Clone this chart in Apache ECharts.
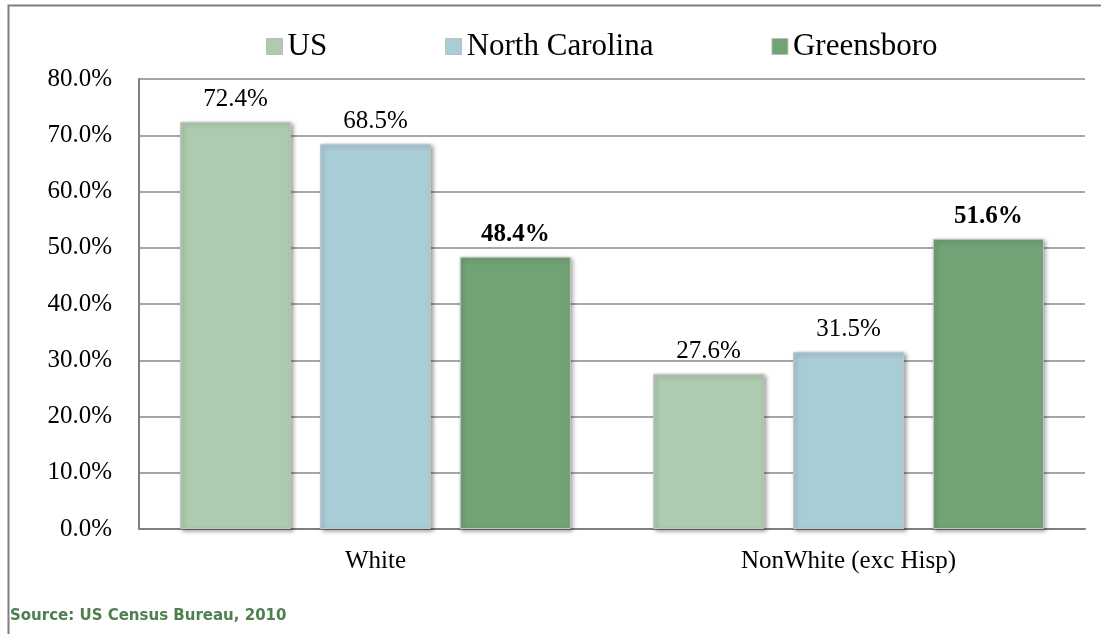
<!DOCTYPE html>
<html>
<head>
<meta charset="utf-8">
<script src="https://cdn.jsdelivr.net/npm/echarts@6/dist/echarts.min.js"></script>
<style>
  html, body { margin: 0; padding: 0; background: #fff; }
  #chart { width: 1101px; height: 634px; }
</style>
</head>
<body>
<div id="chart"></div>
<script>
const categories = ["White", "NonWhite (exc Hisp)"];
const usValues = [72.4, 27.6];
const ncValues = [68.5, 31.5];
const gbValues = [48.4, 51.6];
const seriesNames = ["US", "North Carolina", "Greensboro"];
const yTicks = { min: 0, max: 80, interval: 10 };

const serif = "'Liberation Serif', 'Times New Roman', serif";
const chart = echarts.init(document.getElementById("chart"));

// shared bar look: thin grey edge and a soft drop shadow like the original
function barSeries(name, data, color, bold) {
  return {
    name: name,
    type: "bar",
    data: data,
    barWidth: 111,
    barGap: "26%",
    itemStyle: {
      color: color,
      borderColor: "#c4c4c4",
      borderWidth: 1,
      shadowColor: "rgba(0,0,0,0.35)",
      shadowBlur: 4,
      shadowOffsetX: 2,
      shadowOffsetY: 2,
    },
    label: {
      show: true,
      position: "top",
      distance: 10,
      color: "#000",
      fontFamily: serif,
      fontSize: 25,
      fontWeight: bold ? "bold" : "normal",
      formatter: (p) => p.value.toFixed(1) + "%",
    },
  };
}

const options = {
  animation: false,
  backgroundColor: "#fff",
  textStyle: { fontFamily: serif },
  grid: {
    left: 139,
    right: 16,
    top: 79,
    bottom: 105,
    containLabel: false,
  },
  legend: {
    data: seriesNames,
    left: 261,
    top: 26,
    itemGap: 118,
    itemWidth: 16,
    itemHeight: 16,
    icon: "rect",
    itemStyle: { borderColor: "#bdbdbd", borderWidth: 1 },
    formatter: (name) => "{t|" + name + "}",
    textStyle: {
      fontFamily: serif,
      fontSize: 31,
      color: "#000",
      rich: { t: { fontFamily: serif, fontSize: 31, color: "#000" } },
    },
  },
  xAxis: {
    type: "category",
    data: categories,
    axisTick: { show: false },
    axisLine: { lineStyle: { color: "#7f7f7f", width: 2 } },
    axisLabel: { color: "#000", fontFamily: serif, fontSize: 25, margin: 20 },
  },
  yAxis: {
    type: "value",
    min: yTicks.min,
    max: yTicks.max,
    interval: yTicks.interval,
    axisLine: { show: true, lineStyle: { color: "#7f7f7f", width: 2 } },
    axisTick: { show: false },
    axisLabel: {
      color: "#000",
      fontFamily: serif,
      fontSize: 25,
      margin: 27,
      formatter: (v) => v.toFixed(1) + "%",
    },
    splitLine: { lineStyle: { color: "#888888", width: 1.5 } },
  },
  series: [
    barSeries(seriesNames[0], usValues, "#afcbaf", false),
    barSeries(seriesNames[1], ncValues, "#a9cdd7", false),
    barSeries(seriesNames[2], gbValues, "#71a376", true),
  ],
  graphic: [
    {
      type: "rect",
      left: 6,
      top: 3,
      shape: { width: 1200, height: 700 },
      style: { fill: "none", stroke: "#7f7f7f", lineWidth: 2 },
      silent: true,
    },
    {
      type: "text",
      left: 10,
      top: 609,
      style: {
        text: "Source: US Census Bureau, 2010",
        fill: "#4f7f4f",
        font: "bold 15px 'DejaVu Sans'",
      },
    },
  ],
};

chart.setOption(options);
window.addEventListener("resize", () => chart.resize());
</script>
</body>
</html>
